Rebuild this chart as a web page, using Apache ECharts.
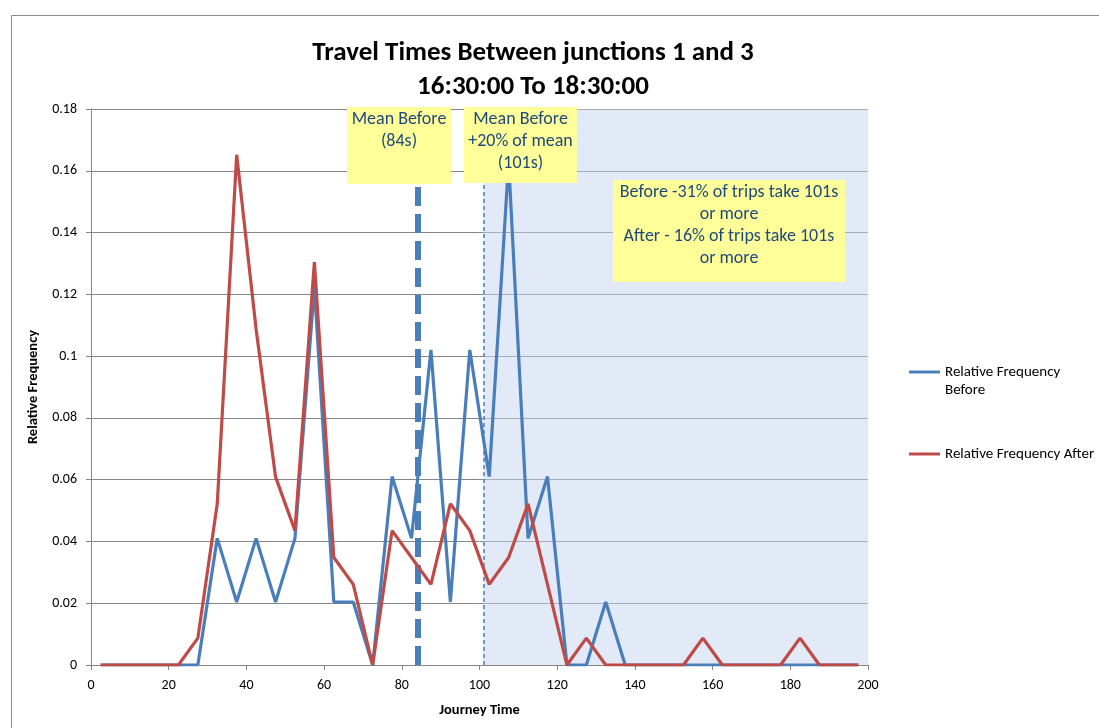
<!DOCTYPE html>
<html>
<head>
<meta charset="utf-8">
<script src="https://cdn.jsdelivr.net/npm/echarts@6/dist/echarts.min.js"></script>
<style>
html,body{margin:0;padding:0;background:#fff;}
#chart{width:1099px;height:728px;}
</style>
</head>
<body>
<div id="chart"></div>
<script>
// Bin centres (journey time, s)
const journeyTimes = [2.5,7.5,12.5,17.5,22.5,27.5,32.5,37.5,42.5,47.5,52.5,57.5,62.5,67.5,72.5,77.5,82.5,87.5,92.5,97.5,
  102.5,107.5,112.5,117.5,122.5,127.5,132.5,137.5,142.5,147.5,152.5,157.5,162.5,167.5,172.5,177.5,182.5,187.5,192.5,197.5];
const freqBefore = [0,0,0,0,0,0,0.041,0.0204,0.041,0.0204,0.041,0.1224,0.0204,0.0204,0,0.061,0.041,0.102,0.0204,0.102,
  0.061,0.163,0.041,0.061,0,0,0.0204,0,0,0,0,0,0,0,0,0,0,0,0,0];
const freqAfter = [0,0,0,0,0,0.0087,0.0522,0.1652,0.1087,0.0609,0.0435,0.1304,0.0348,0.0261,0,0.0435,0.0348,0.0261,0.0522,0.0435,
  0.0261,0.0348,0.0522,0.0261,0,0.0087,0,0,0,0,0,0.0087,0,0,0,0,0.0087,0,0,0];
const meanBefore = 84;
const meanPlus20 = 101;
const xMax = 200;
const seriesNames = ['Relative Frequency Before', 'Relative Frequency After'];
const titleLines = ['Travel Times Between junctions 1 and 3', '16:30:00 To 18:30:00'];
const box1Text = 'Mean Before\n(84s)';
const box2Text = 'Mean Before\n+20% of mean\n(101s)';
const box3Text = 'Before -31% of trips take 101s\nor more\nAfter - 16% of trips take 101s\nor more';

const FONT = '"Carlito", "Noto Sans", sans-serif';
const BLUE = '#4a7ebb';
const RED = '#be4b48';
const BOX_FILL = '#ffff99';
const BOX_TEXT = '#1f497d';

const pair = (xs, ys) => xs.map((x, i) => [x, ys[i]]);

function box(x, y, w, h, text) {
  return {
    type: 'group', left: x, top: y, z: 100,
    children: [
      { type: 'rect', z: 100, shape: { x: 0, y: 0, width: w, height: h }, style: { fill: BOX_FILL } },
      { type: 'text', z: 101, x: w / 2, y: 1, style: { text: text, fill: BOX_TEXT, font: '18px ' + FONT, align: 'center', verticalAlign: 'top', lineHeight: 22 } }
    ]
  };
}

const legendText = { fontFamily: FONT, fontSize: 15, color: '#000', lineHeight: 18 };

const chart = echarts.init(document.getElementById('chart'), null, { renderer: 'canvas' });
chart.setOption({
  backgroundColor: '#fff',
  animation: false,
  title: {
    text: titleLines.join('\n'),
    left: 528, top: 31, textAlign: 'center',
    textStyle: { fontFamily: FONT, fontWeight: 'bold', fontSize: 27, lineHeight: 34, color: '#000' }
  },
  grid: { left: 91, right: 231, top: 109, bottom: 63, containLabel: false },
  legend: [
    {
      orient: 'vertical', left: 909, top: 345, padding: 0,
      icon: 'rect', itemWidth: 31, itemHeight: 3,
      textStyle: legendText,
      formatter: () => ' \nRelative Frequency\nBefore',
      data: [seriesNames[0]]
    },
    {
      orient: 'vertical', left: 909, top: 445, padding: 0,
      icon: 'rect', itemWidth: 31, itemHeight: 3,
      textStyle: legendText,
      data: [seriesNames[1]]
    }
  ],
  xAxis: {
    type: 'value', min: 0, max: xMax, interval: 20,
    name: 'Journey Time', nameLocation: 'middle', nameGap: 38,
    nameTextStyle: { fontFamily: FONT, fontWeight: 'bold', fontSize: 14.5, color: '#000' },
    axisLine: { show: true, lineStyle: { color: '#868686', width: 1 } },
    axisTick: { show: true, length: 5, lineStyle: { color: '#868686' } },
    axisLabel: { fontFamily: FONT, fontSize: 14, color: '#000', margin: 13 },
    splitLine: { show: false }
  },
  yAxis: {
    type: 'value', min: 0, max: 0.18, interval: 0.02,
    name: 'Relative Frequency', nameLocation: 'middle', nameGap: 46,
    nameTextStyle: { fontFamily: FONT, fontWeight: 'bold', fontSize: 14.5, color: '#000' },
    axisLine: { show: true, lineStyle: { color: '#868686', width: 1 } },
    axisTick: { show: true, length: 5, lineStyle: { color: '#868686' } },
    axisLabel: { fontFamily: FONT, fontSize: 14, color: '#000', margin: 14, formatter: v => String(+v.toFixed(2)) },
    splitLine: { show: true, lineStyle: { color: '#868686', width: 1 } }
  },
  series: [
    {
      name: seriesNames[0], type: 'line', data: pair(journeyTimes, freqBefore),
      symbol: 'none', z: 5,
      lineStyle: { color: BLUE, width: 3.2 }, itemStyle: { color: BLUE },
      markArea: {
        silent: true,
        itemStyle: { color: 'rgba(196,214,238,0.5)' },
        data: [[{ xAxis: meanPlus20 }, { xAxis: xMax }]]
      },
      markLine: {
        silent: true, symbol: 'none', label: { show: false },
        data: [
          { xAxis: meanBefore, lineStyle: { color: BLUE, width: 6, type: [19, 8] } },
          { xAxis: meanPlus20, lineStyle: { color: BLUE, width: 1.5, type: [4, 3] } }
        ]
      }
    },
    {
      name: seriesNames[1], type: 'line', data: pair(journeyTimes, freqAfter),
      symbol: 'none', z: 6,
      lineStyle: { color: RED, width: 3.2 }, itemStyle: { color: RED }
    }
  ],
  graphic: [
    { type: 'rect', left: 9, top: 13, z: -10, shape: { width: 1200, height: 800 }, style: { fill: 'none', stroke: '#8c8c8c', lineWidth: 1 } },
    box(347, 107, 104, 77, box1Text),
    box(464, 107, 113, 76, box2Text),
    box(613, 180, 232, 102, box3Text)
  ]
});
</script>
</body>
</html>
